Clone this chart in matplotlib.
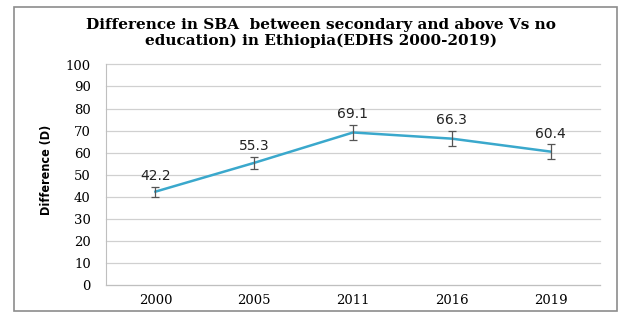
import matplotlib.pyplot as plt
from matplotlib.patches import Rectangle

years = ['2000', '2005', '2011', '2016', '2019']
difference = [42.2, 55.3, 69.1, 66.3, 60.4]
err = [2.2, 2.7, 3.5, 3.5, 3.3]

fig = plt.figure(figsize=(6.42, 3.24), dpi=100)
ax = fig.add_axes([106 / 642, 1 - 284.5 / 324, 494 / 642, 220 / 324])

# outer chart border
fig.patches.append(Rectangle((14 / 642, 1 - 311 / 324), 603 / 642, 304 / 324,
                             transform=fig.transFigure, fill=False,
                             edgecolor='#8c8c8c', linewidth=1.2))

x = range(len(years))
ax.plot(x, difference, color='#3aa8cc', linewidth=1.8, zorder=3)
ax.errorbar(x, difference, yerr=err, fmt='none', ecolor='#555555',
            elinewidth=0.9, capsize=3, capthick=0.9, zorder=4)

for i, v in enumerate(difference):
    ax.text(i, v + err[i] + 1.6, f'{v}', ha='center', va='bottom',
            fontsize=10, family='DejaVu Sans', color='#222222')

ax.set_xlim(-0.5, 4.5)
ax.set_ylim(0, 100)
ax.set_yticks(range(0, 101, 10))
ax.set_xticks(list(x))
ax.set_xticklabels(years)
ax.tick_params(length=0, labelsize=9.5)
ax.tick_params(axis='y', pad=11)
ax.tick_params(axis='x', pad=7)
for lab in ax.get_xticklabels() + ax.get_yticklabels():
    lab.set_family('DejaVu Serif')
ax.grid(axis='y', color='#d0d0d0', linewidth=0.9)
for gl in ax.get_ygridlines():
    gl.set_clip_on(False)
ax.set_axisbelow(True)
for s in ['top', 'right']:
    ax.spines[s].set_visible(False)
ax.spines['left'].set_color('#bfbfbf')
ax.spines['bottom'].set_color('#bfbfbf')

ax.set_ylabel('Difference (D)', family='DejaVu Sans', fontstretch='condensed',
              fontsize=9, fontweight='bold')
ax.yaxis.set_label_coords(-0.108, 0.52)

fig.text(0.5, 1 - 33 / 324, 'Difference in SBA  between secondary and above Vs no\n'
         'education) in Ethiopia(EDHS 2000-2019)', ha='center', va='center',
         family='DejaVu Serif', fontweight='bold', fontsize=11, linespacing=1.1)

fig.savefig('out.png', dpi=100)
